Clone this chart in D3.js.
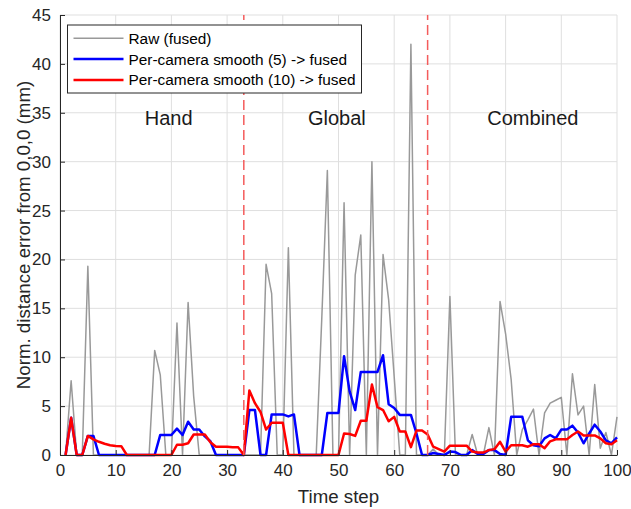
<!DOCTYPE html>
<html>
<head>
<meta charset="utf-8">
<script src="https://cdn.jsdelivr.net/npm/d3@7/dist/d3.min.js"></script>
<style>
  html, body { margin: 0; padding: 0; background: #fff; }
  svg { display: block; font-family: "Liberation Sans", Arial, Helvetica, sans-serif; }
</style>
</head>
<body>
<svg id="chart" width="631" height="509"></svg>
<script>
// ---- data ----
const timeSteps = d3.range(1, 101);
const rawFused = [
  0, 7.6, 0, 0, 19.3, 0, 0, 0, 0, 0,
  0, 0, 0, 0, 0, 0, 10.7, 8.2, 0, 0,
  13.5, 0, 15.6, 6, 0, 0, 0, 0, 0, 0,
  0, 0, 0, 0, 0, 0, 19.5, 16.5, 0, 0,
  21.2, 0, 0, 0, 0, 0, 14, 29.1, 0, 0,
  25.8, 0, 18.4, 22.5, 0, 30.0, 0, 20.5, 15.9, 8,
  0, 0, 42.0, 0, 0, 0, 0.6, 0, 0, 16.2,
  0, 0, 0, 2.1, 0, 0, 2.8, 0, 15.7, 12.4,
  7.7, 0, 2.6, 3.6, 4.7, 0, 4.3, 5.3, 5.6, 5.9,
  0, 8.3, 4.1, 5.0, 0, 7.2, 0.7, 2.3, 0, 3.9
];
const smooth5 = [
  0, 3.8, 0, 0, 1.95, 1.95, 0, 0, 0, 0,
  0, 0, 0, 0, 0, 0, 0, 2.05, 2.05, 2.05,
  2.7, 2.05, 3.4, 2.6, 2.6, 1.9, 1.4, 0, 0, 0,
  0, 0, 0, 4.6, 4.6, 0, 0, 4.15, 4.15, 4.15,
  3.95, 4.15, 0, 0, 0, 0, 0, 4.3, 4.3, 4.3,
  10.1, 6.5, 4.6, 8.5, 8.5, 8.5, 8.5, 10.2, 5.2, 4.8,
  4.1, 4.1, 4.1, 2.2, 0, 0, 0.2, 0.1, 0, 0.35,
  0.3, 0, 0, 0.5, 0.1, 0.1, 0.5, 0.5, 0.1, 0,
  3.9, 3.9, 3.9, 1.5, 1.0, 0.9, 1.7, 2.05, 1.7, 2.6,
  2.6, 3.0, 2.3, 1.2, 2.2, 3.1, 2.4, 1.5, 1.2, 1.8
];
const smooth10 = [
  0, 3.8, 0, 0, 1.95, 1.6, 1.35, 1.15, 1.0, 0.92,
  0.9, 0, 0, 0, 0, 0, 0, 0, 0, 0,
  1.05, 1.05, 1.2, 2.1, 2.1, 2.1, 1.3, 0.85, 0.85, 0.85,
  0.8, 0.78, 0, 6.6, 5.3, 4.4, 2.6, 3.3, 3.3, 3.3,
  0, 0, 0, 0, 0, 0, 0, 0, 0, 0,
  2.2, 2.15, 1.95, 3.5, 3.5, 7.2, 4.9, 4.6, 3.45, 3.9,
  2.4, 2.4, 0.8, 2.5, 2.5, 2.1, 0.85, 0.6, 0.35, 0.95,
  0.95, 0.95, 0.95, 0.35, 0.25, 0.25, 0.5, 0.6, 1.35, 0.35,
  1.0, 1.0, 1.0, 0.85, 1.1, 1.1, 0.7, 1.4, 1.6, 1.6,
  1.6, 2.05, 2.4, 2.0, 2.0, 2.0, 1.7, 1.2, 1.1, 1.5
];
const seriesNames = ["Raw (fused)", "Per-camera smooth (5) -> fused", "Per-camera smooth (10) -> fused"];
const seriesColors = ["#999999", "#0000ff", "#ff0000"];
const xTicks = [0, 10, 20, 30, 40, 50, 60, 70, 80, 90, 100];
const yTicks = [0, 5, 10, 15, 20, 25, 30, 35, 40, 45];
const boundaries = [33, 66];
const regionNames = ["Hand", "Global", "Combined"];
const regionX = [19.5, 49.7, 84.9];
const regionY = 33.8;
const xLabel = "Time step";
const yLabel = "Norm. distance error from 0,0,0 (mm)";

// ---- layout ----
const W = 631, H = 509;
const m = { left: 60, right: 14, top: 15, bottom: 54 };
const svg = d3.select("#chart");
const x = d3.scaleLinear().domain([0, 100]).range([m.left, W - m.right]);
const y = d3.scaleLinear().domain([0, 45]).range([H - m.bottom, m.top]);
const axisColor = "#262626";
const gridColor = "#dfdfdf";

// grid
svg.append("g").selectAll("line.vg").data(xTicks).join("line")
  .attr("x1", d => x(d)).attr("x2", d => x(d))
  .attr("y1", y(0)).attr("y2", y(45))
  .attr("stroke", gridColor).attr("stroke-width", 1);
svg.append("g").selectAll("line.hg").data(yTicks).join("line")
  .attr("x1", x(0)).attr("x2", x(100))
  .attr("y1", d => y(d)).attr("y2", d => y(d))
  .attr("stroke", gridColor).attr("stroke-width", 1);

// series
const allSeries = [rawFused, smooth5, smooth10];
const widths = [1.5, 2.5, 2.5];
allSeries.forEach((vals, i) => {
  const line = d3.line().x((d, j) => x(timeSteps[j])).y(d => y(d));
  svg.append("path").datum(vals)
    .attr("d", line)
    .attr("fill", "none")
    .attr("stroke", seriesColors[i])
    .attr("stroke-width", widths[i])
    .attr("stroke-linejoin", "round");
});

// boundaries
svg.append("g").selectAll("line").data(boundaries).join("line")
  .attr("x1", d => x(d)).attr("x2", d => x(d))
  .attr("y1", y(0)).attr("y2", y(45))
  .attr("stroke", "#f45c5c").attr("stroke-width", 1.5)
  .attr("stroke-dasharray", "10,5");

// region labels
svg.append("g").selectAll("text").data(regionNames).join("text")
  .attr("x", (d, i) => x(regionX[i])).attr("y", y(regionY))
  .attr("text-anchor", "middle")
  .attr("font-size", "20px").attr("fill", "#1a1a1a")
  .text(d => d);

// axes
const xAxis = d3.axisBottom(x).tickValues(xTicks).tickSizeInner(-5).tickSizeOuter(0).tickPadding(9);
const yAxis = d3.axisLeft(y).tickValues(yTicks).tickSizeInner(-5).tickSizeOuter(0).tickPadding(9);
const gx = svg.append("g").attr("transform", `translate(0,${y(0)})`).call(xAxis);
const gy = svg.append("g").attr("transform", `translate(${x(0)},0)`).call(yAxis);
[gx, gy].forEach(g => {
  g.select(".domain").attr("stroke", axisColor).attr("stroke-width", 1);
  g.selectAll(".tick line").attr("stroke", axisColor);
  g.selectAll(".tick text").attr("fill", axisColor)
    .attr("font-size", "17px").attr("font-family", "Liberation Sans, Arial, sans-serif");
});

// axis labels
svg.append("text").attr("x", (x(0) + x(100)) / 2).attr("y", 503)
  .attr("text-anchor", "middle").attr("font-size", "18.7px").attr("fill", axisColor)
  .text(xLabel);
svg.append("text")
  .attr("transform", `translate(29.5,${(y(0) + y(45)) / 2}) rotate(-90)`)
  .attr("text-anchor", "middle").attr("font-size", "18.7px").attr("fill", axisColor)
  .text(yLabel);

// legend
const lg = svg.append("g").attr("transform", "translate(67.5,25)");
lg.append("rect").attr("width", 294).attr("height", 68)
  .attr("fill", "#fff").attr("stroke", axisColor).attr("stroke-width", 1);
seriesNames.forEach((name, i) => {
  const cy = 13.3 + i * 20.8;
  lg.append("line").attr("x1", 6).attr("x2", 56).attr("y1", cy).attr("y2", cy)
    .attr("stroke", seriesColors[i]).attr("stroke-width", widths[i]);
  lg.append("text").attr("x", 61).attr("y", cy + 5.5)
    .attr("font-size", "15.4px").attr("fill", "#000").text(name);
});
</script>
</body>
</html>
